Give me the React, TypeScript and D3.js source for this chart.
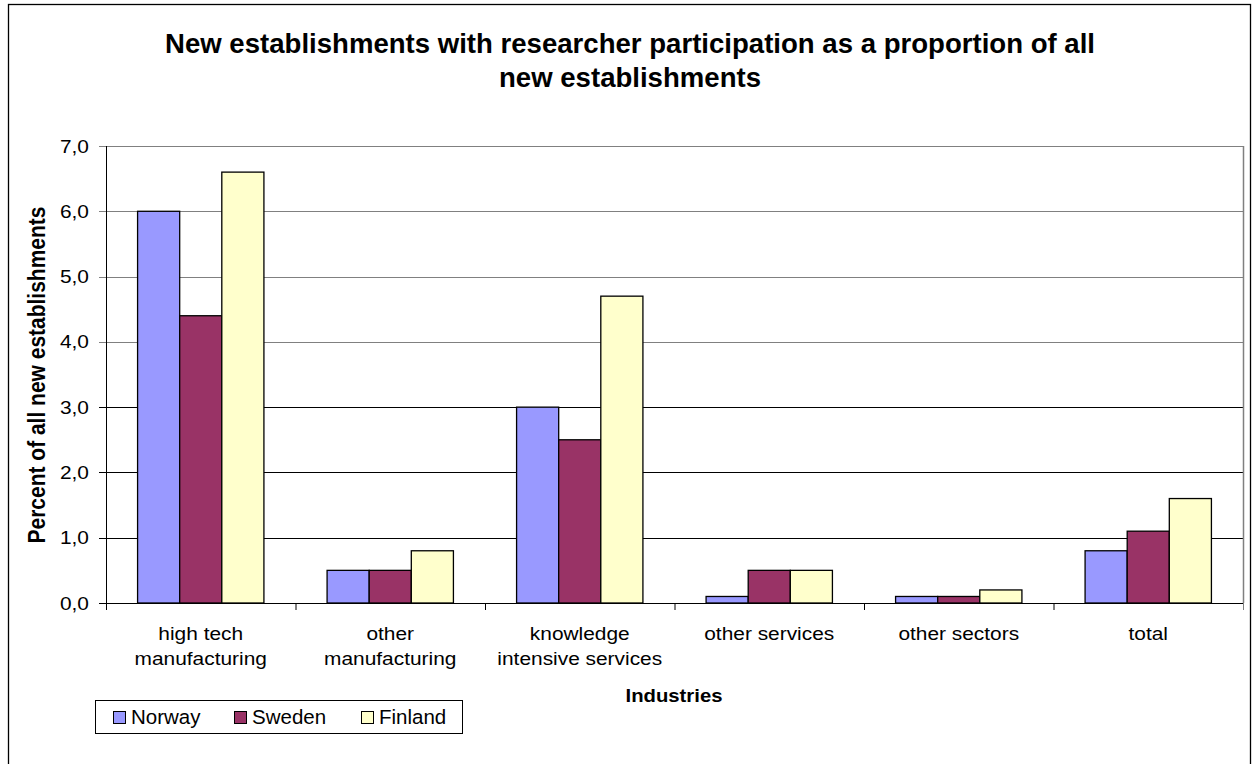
import React from "react";
import * as d3 from "d3";

const categories: string[][] = [
  ["high tech", "manufacturing"],
  ["other", "manufacturing"],
  ["knowledge", "intensive services"],
  ["other services"],
  ["other sectors"],
  ["total"],
];
const seriesNames = ["Norway", "Sweden", "Finland"];
const seriesColors = ["#9999FF", "#993366", "#FFFFCC"];
const norway = [6.0, 0.5, 3.0, 0.1, 0.1, 0.8];
const sweden = [4.4, 0.5, 2.5, 0.5, 0.1, 1.1];
const finland = [6.6, 0.8, 4.7, 0.5, 0.2, 1.6];
const yTicks = [0, 1, 2, 3, 4, 5, 6, 7];
const titleLines = [
  "New establishments with researcher participation as a proportion of all",
  "new establishments",
];

const W = 1255;
const H = 764;
const FONT = "Arial, 'Liberation Sans', sans-serif";

// plot area in page pixels
const left = 106;
const right = 1243;
const top = 146;
const bottom = 603;

function SText(props: {
  x: number;
  y: number;
  sx?: number;
  sy?: number;
  size: number;
  bold?: boolean;
  anchor?: string;
  rotate?: number;
  children: React.ReactNode;
}) {
  const { x, y, sx = 1, sy = 1, size, bold, anchor = "middle", rotate = 0 } = props;
  return (
    <text
      transform={`translate(${x},${y}) rotate(${rotate}) scale(${sx},${sy})`}
      fontFamily={FONT}
      fontSize={size}
      fontWeight={bold ? "bold" : "normal"}
      textAnchor={anchor}
      fill="#000"
    >
      {props.children}
    </text>
  );
}

export default function App() {
  const values = [norway, sweden, finland];
  const keys = categories.map((c) => c.join(" "));
  const x0 = d3.scaleBand<string>().domain(keys).range([left, right]).padding(0);
  const x1 = d3
    .scaleBand<string>()
    .domain(seriesNames)
    .range([0, x0.step()])
    .paddingInner(0)
    .paddingOuter(0.75);
  const y = d3.scaleLinear().domain([0, 7]).range([bottom, top]);

  return (
    <svg
      width={W}
      height={H}
      style={{ position: "absolute", left: 0, top: 0, background: "#fff" }}
    >
      <rect x={0} y={0} width={W} height={H} fill="#fff" />
      {/* chart frame */}
      <rect x={8.5} y={4.5} width={1242} height={H + 10} fill="none" stroke="#000" strokeWidth={1.3} />

      {/* title */}
      {titleLines.map((t, i) => (
        <SText key={i} x={630} y={53 + i * 34} size={28} sx={0.985} bold>
          {t}
        </SText>
      ))}

      {/* gridlines */}
      {yTicks.slice(1).map((t) => (
        <line
          key={t}
          x1={left}
          x2={right}
          y1={Math.round(y(t)) + 0.5}
          y2={Math.round(y(t)) + 0.5}
          stroke={t >= 4 ? "#808080" : "#000"}
          strokeWidth={1}
        />
      ))}
      {/* plot right border */}
      <line x1={right + 0.5} x2={right + 0.5} y1={top} y2={bottom} stroke="#808080" strokeWidth={1.5} />

      {/* bars */}
      {keys.map((k, ci) =>
        seriesNames.map((s, si) => {
          const v = values[si][ci];
          const bx = (x0(k) as number) + (x1(s) as number);
          return (
            <rect
              key={k + s}
              x={bx}
              y={y(v)}
              width={x1.bandwidth()}
              height={y(0) - y(v)}
              fill={seriesColors[si]}
              stroke="#000"
              strokeWidth={1.3}
            />
          );
        })
      )}

      {/* axes */}
      <line x1={left + 0.5} x2={left + 0.5} y1={top} y2={bottom} stroke="#000" strokeWidth={1} />
      <line x1={left - 7} x2={right} y1={bottom + 0.5} y2={bottom + 0.5} stroke="#000" strokeWidth={1} />
      {yTicks.map((t) => (
        <g key={t}>
          <line
            x1={left - 7}
            x2={left}
            y1={Math.round(y(t)) + 0.5}
            y2={Math.round(y(t)) + 0.5}
            stroke={t >= 4 ? "#808080" : "#000"}
          />
          <SText x={89} y={y(t) + 6.5} size={18.5} sx={1.13} anchor="end">
            {d3.format(".1f")(t).replace(".", ",")}
          </SText>
        </g>
      ))}
      {keys.map((k) => (
        <line
          key={k}
          x1={(x0(k) as number) + 0.5}
          x2={(x0(k) as number) + 0.5}
          y1={bottom}
          y2={bottom + 7}
          stroke="#000"
        />
      ))}
      <line x1={right + 0.5} x2={right + 0.5} y1={bottom} y2={bottom + 7} stroke="#808080" />

      {/* category labels */}
      {categories.map((lines, i) =>
        lines.map((ln, j) => (
          <SText
            key={i + "-" + j}
            x={(x0(keys[i]) as number) + x0.bandwidth() / 2}
            y={640 + j * 25}
            size={18.5}
            sx={1.13}
          >
            {ln}
          </SText>
        ))
      )}

      {/* axis titles */}
      <SText x={674} y={702} size={18.7} sx={1.085} bold>
        Industries
      </SText>
      <SText x={45} y={375} size={21} sy={1.15} bold rotate={-90}>
        Percent of all new establishments
      </SText>

      {/* legend */}
      <rect x={95.5} y={700.5} width={367} height={33} fill="#fff" stroke="#000" strokeWidth={1} />
      {seriesNames.map((s, i) => {
        const lx = [113, 234, 361][i];
        return (
          <g key={s}>
            <rect x={lx + 0.5} y={711.5} width={12} height={12} fill={seriesColors[i]} stroke="#000" strokeWidth={1} />
            <SText x={lx + 18} y={724} size={20.5} anchor="start">
              {s}
            </SText>
          </g>
        );
      })}
    </svg>
  );
}
